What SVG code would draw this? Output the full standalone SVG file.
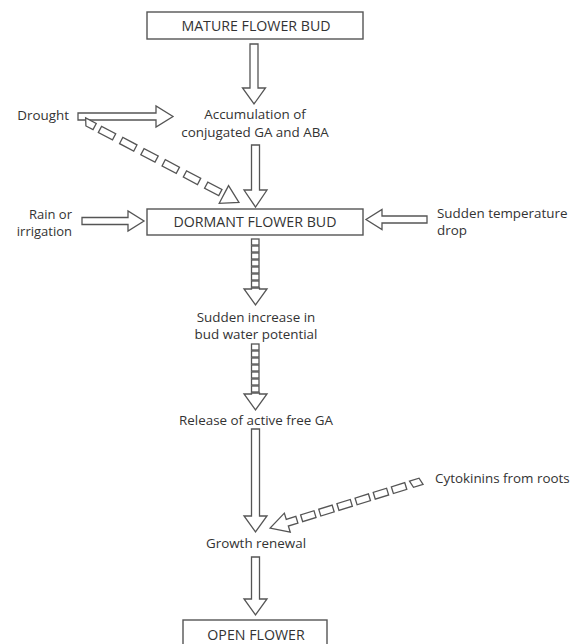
<svg xmlns="http://www.w3.org/2000/svg" width="576" height="644" viewBox="0 0 576 644">
<style>
.t{font-family:"Open Sans","Noto Sans","Liberation Sans",sans-serif;font-size:13.4px;fill:#333}
.k{font-size:14.2px}
.s{font-size:13px}
.c{text-anchor:middle}
.r{text-anchor:end}
.box{fill:#fff;stroke:#555;stroke-width:1.4}
.ar{fill:#fff;stroke:#555;stroke-width:1.3;stroke-linejoin:miter}
</style>
<rect width="576" height="644" fill="#fff"/>
<g id="connectors">
<path class="ar" d="M250,44 H258 V88 H265.5 L254,104 L242.5,88 H250 Z"/>
<path class="ar" d="M251.5,145 H259.5 V190 H267 L255.5,207 L244,190 H251.5 Z"/>
<path class="ar" d="M251.5,429 H259.5 V516 H267 L255.5,532 L244,516 H251.5 Z"/>
<path class="ar" d="M251.5,557 H259.5 V599 H267 L255.5,615 L244,599 H251.5 Z"/>
<path class="ar" d="M78,113 V120 H156 V127 L173,116.5 L156,106 V113 Z"/>
<path class="ar" d="M82,217.5 V224.5 H128 V231 L144,221 L128,211 V217.5 Z"/>
<path class="ar" d="M427,216 V223 H382 V229.5 L366,219.5 L382,209.5 V216 Z"/>
<g class="ar">
<rect x="251.5" y="239" width="7.5" height="6"/>
<rect x="251.5" y="246" width="7.5" height="6"/>
<rect x="251.5" y="253" width="7.5" height="6"/>
<rect x="251.5" y="260" width="7.5" height="6"/>
<rect x="251.5" y="267" width="7.5" height="6"/>
<rect x="251.5" y="274" width="7.5" height="6"/>
<rect x="251.5" y="281" width="7.5" height="6"/>
<path d="M251.5,288 H259.5 V289 H267 L255.5,305 L244,289 H251.5 Z"/>
<rect x="251.5" y="344" width="7.5" height="6"/>
<rect x="251.5" y="351" width="7.5" height="6"/>
<rect x="251.5" y="358" width="7.5" height="6"/>
<rect x="251.5" y="365" width="7.5" height="6"/>
<rect x="251.5" y="372" width="7.5" height="6"/>
<rect x="251.5" y="379" width="7.5" height="6"/>
<rect x="251.5" y="386" width="7.5" height="6"/>
<path d="M251.5,393 H259.5 V394 H267 L255.5,410 L244,394 H251.5 Z"/>
</g>
<g class="ar" transform="translate(84,121) rotate(27.7)">
<path d="M0,-3.5 L12,-3.5 L12,3.5 L4,3.5 Z"/>
<rect x="18" y="-3.5" width="16" height="7"/>
<rect x="42" y="-3.5" width="16" height="7"/>
<rect x="66" y="-3.5" width="16" height="7"/>
<rect x="90" y="-3.5" width="16" height="7"/>
<rect x="114" y="-3.5" width="16" height="7"/>
<rect x="138" y="-3.5" width="16" height="7"/>
<path d="M158,-3.5 V-10 L175,0 L158,10 V3.5 Z"/>
</g>
<g class="ar" transform="translate(422,481) rotate(162.8)">
<path d="M0,-3.5 H10 L12,3.5 H2 Z"/>
<rect x="17" y="-3.5" width="14" height="7"/>
<rect x="36" y="-3.5" width="14" height="7"/>
<rect x="55" y="-3.5" width="14" height="7"/>
<rect x="74" y="-3.5" width="14" height="7"/>
<rect x="93" y="-3.5" width="14" height="7"/>
<rect x="112" y="-3.5" width="14" height="7"/>
<path d="M131,-3.5 H141 V-10 L159,0 L141,10 V3.5 H131 Z"/>
</g>
</g>
<g id="mature">
<rect class="box" x="147" y="12" width="216" height="27"/>
<text class="t k c" x="256" y="30.5">MATURE FLOWER BUD</text>
</g>
<g id="accumulation">
<text class="t c" x="255" y="119">Accumulation of</text>
<text class="t c" x="255" y="137">conjugated GA and ABA</text>
</g>
<g id="drought">
<text class="t r" x="69" y="120">Drought</text>
</g>
<g id="dormant">
<rect class="box" x="147" y="209" width="216" height="26"/>
<text class="t k c" x="255" y="227">DORMANT FLOWER BUD</text>
</g>
<g id="rain">
<text class="t s r" x="72" y="218.5">Rain or</text>
<text class="t s r" x="72" y="236">irrigation</text>
</g>
<g id="temperature">
<text class="t" x="437" y="218">Sudden temperature</text>
<text class="t" x="437" y="235">drop</text>
</g>
<g id="water">
<text class="t c" x="256" y="322">Sudden increase in</text>
<text class="t c" x="256" y="339">bud water potential</text>
</g>
<g id="release">
<text class="t c" x="256" y="425">Release of active free GA</text>
</g>
<g id="cytokinins">
<text class="t" x="435" y="483">Cytokinins from roots</text>
</g>
<g id="growth">
<text class="t c" x="256" y="548">Growth renewal</text>
</g>
<g id="open">
<rect class="box" x="183" y="620" width="144" height="30"/>
<text class="t k c" x="256" y="640">OPEN FLOWER</text>
</g>
</svg>
